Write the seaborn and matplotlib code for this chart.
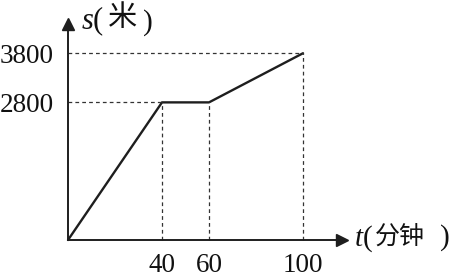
import numpy as np
import pandas as pd
import seaborn as sns
import matplotlib.pyplot as plt

sns.set_theme(style="white")
plt.rcParams['font.family'] = ['Liberation Serif', 'Noto Sans CJK SC']
plt.rcParams['mathtext.fontset'] = 'custom'
plt.rcParams['mathtext.it'] = 'Liberation Serif:italic'
plt.rcParams['mathtext.rm'] = 'Liberation Serif'

# data
time_min = [0, 40, 60, 100]
distance_m = [0, 2800, 2800, 3800]
x_ticks = [40, 60, 100]
y_ticks = [2800, 3800]
x_label_var = r"$t$("
x_label_unit = "分钟"
y_label_var = r"$s$("
y_label_unit = "米"

# pixel mapping helpers for layout
X0, XS = 68.0, 2.35
Y0, YS = 240.0, 0.04915
W, H = 452, 277

def px(xp):
    return (xp - X0) / XS

def py(yp):
    return (Y0 - yp) / YS

fig = plt.figure(figsize=(W / 100, H / 100), dpi=100)
ax = fig.add_axes([0, 0, 1, 1])
ax.set_facecolor('white')

df = pd.DataFrame({'t': time_min, 's': distance_m})
sns.lineplot(data=df, x='t', y='s', ax=ax, color='#1e1e1e', lw=1.7, sort=False)

ax.set_xlim(px(0), px(W))
ax.set_ylim(py(H), py(0))

# dashed guide lines
dash = (0, (3, 2.5))
for t, s in zip(time_min, distance_m):
    if t in x_ticks:
        ax.plot([t, t], [0, s], ls=dash, color='#333333', lw=0.9)
for s in y_ticks:
    t_reach = time_min[distance_m.index(s)]
    ax.plot([0, t_reach], [s, s], ls=dash, color='#333333', lw=0.9)

# axes as spines at data zero with arrowheads
x_end = px(342)
y_end = py(24)
for side in ['top', 'right']:
    ax.spines[side].set_visible(False)
ax.spines['left'].set_position(('data', 0))
ax.spines['bottom'].set_position(('data', 0))
ax.spines['left'].set_bounds(0, y_end)
ax.spines['bottom'].set_bounds(0, x_end)
for side in ['left', 'bottom']:
    ax.spines[side].set_color('#1e1e1e')
    ax.spines[side].set_linewidth(1.4)
ax.plot([x_end], [0], marker='>', ms=8.5, color='#1e1e1e', clip_on=False)
ax.plot([0], [y_end], marker='^', ms=8.5, color='#1e1e1e', clip_on=False)

ax.set_xticks(x_ticks)
ax.set_xticklabels([str(v) for v in x_ticks])
ax.set_yticks(y_ticks)
ax.set_yticklabels([str(v) for v in y_ticks])
ax.tick_params(axis='both', length=0, labelsize=19.5, colors='#111111')
ax.tick_params(axis='x', pad=9)
ax.tick_params(axis='y', pad=10)
ax.set_xlabel('')
ax.set_ylabel('')

tc = '#111111'
# x axis label: t( 分钟 )
ax.text(px(354), py(246), x_label_var, fontsize=21,
        va='baseline', ha='left', color=tc)
ax.text(px(400), py(238), x_label_unit, fontsize=18, family='Noto Sans CJK SC',
        va='center', ha='center', color=tc)
ax.text(px(444.5), py(245), ")", fontsize=21, family='Liberation Serif',
        va='baseline', ha='center', color=tc)
# y axis label: s( 米 )
ax.text(px(81), py(29), y_label_var, fontsize=22,
        va='baseline', ha='left', color=tc)
ax.text(px(122.5), py(18.5), y_label_unit, fontsize=21, family='Noto Sans CJK SC',
        va='center', ha='center', color=tc)
ax.text(px(147.5), py(30), ")", fontsize=21, family='Liberation Serif',
        va='baseline', ha='center', color=tc)

fig.savefig('out.png', dpi=100)
